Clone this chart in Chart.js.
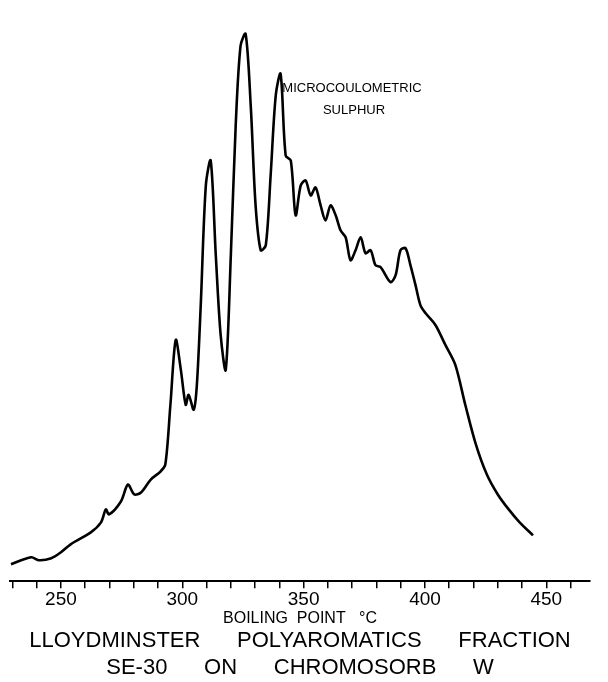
<!DOCTYPE html>
<html><head><meta charset="utf-8">
<script src="https://cdn.jsdelivr.net/npm/chart.js@4"></script>
<style>html,body{margin:0;background:#fff}#w{width:608px;height:682px}</style>
</head><body><div id="w"><canvas id="c"></canvas></div>
<script>
const boilingPoint=[229.4,237.7,241,246,250,254,262.3,266.5,268.5,269.8,274.7,277.6,280.2,283,287,291,293,295.1,297.3,299.4,301.4,302.6,304.7,306,307.6,309.7,311.7,313.8,315.8,317.9,320,322,324,326.1,328.2,330.2,332.3,334.4,336.4,338.5,340.5,342.6,344.7,346.7,348.8,350.8,352.9,354.9,357,359,361.1,363.2,365.2,367.3,369.3,371.4,373.5,375.5,377.6,379.6,381.7,385.8,387.9,389.9,392,394,396.1,398.1,400.2,404.3,408.4,412.5,416.6,421,425.5,430,434.5,439,444.5];
const signal=[17,24,21,23,29,37,49,59,72,67,80,97,87,89,102,110,117,177,242,212,177,187,172,197,277,397,422,327,247,212,327,457,537,549,477,377,332,337,407,487,509,427,422,367,397,402,387,395,377,362,377,367,352,345,322,332,345,329,332,317,315,300,307,332,334,317,297,277,269,257,237,217,177,137,107,87,72,59,46];
const tickLabels=[250,300,350,400,450];
new Chart(document.getElementById('c'),{
type:'line',
data:{labels:boilingPoint,datasets:[{data:boilingPoint.map((x,i)=>({x,y:signal[i]})),borderColor:'#000',borderWidth:2.6,pointRadius:0,tension:0.3,fill:false}]},
options:{responsive:true,maintainAspectRatio:false,animation:false,
layout:{padding:{left:10,right:18,top:6,bottom:0}},
plugins:{legend:{display:false},tooltip:{enabled:false},
title:{display:true,position:'bottom',text:['LLOYDMINSTER      POLYAROMATICS      FRACTION','SE-30      ON      CHROMOSORB      W'],color:'#000',font:{family:'Liberation Sans',size:22,weight:'normal',lineHeight:1.25},padding:{top:0,bottom:0}}},
scales:{
x:{type:'linear',min:229,max:468,afterBuildTicks:s=>{const t=[];for(let v=230;v<=460;v+=10)t.push({value:v});s.ticks=t;},
ticks:{autoSkip:false,maxRotation:0,color:'#000',font:{family:'Liberation Sans',size:19},padding:0,callback:v=>tickLabels.includes(v)?String(v):''},
grid:{drawOnChartArea:false,color:'#000',tickLength:7,lineWidth:1.5},border:{color:'#000',width:2},
title:{display:true,text:'BOILING  POINT   °C',color:'#000',font:{family:'Liberation Sans',size:16,lineHeight:1},padding:{top:0,bottom:0}}},
y:{display:false,min:0,max:577}}},
plugins:[{id:'lbl',afterDraw(c){const x=c.ctx;x.save();x.fillStyle='#000';x.font='13px Liberation Sans';x.textAlign='center';x.fillText('MICROCOULOMETRIC',352,92);x.fillText('SULPHUR',354,114);x.restore();}}]
});
</script></body></html>
